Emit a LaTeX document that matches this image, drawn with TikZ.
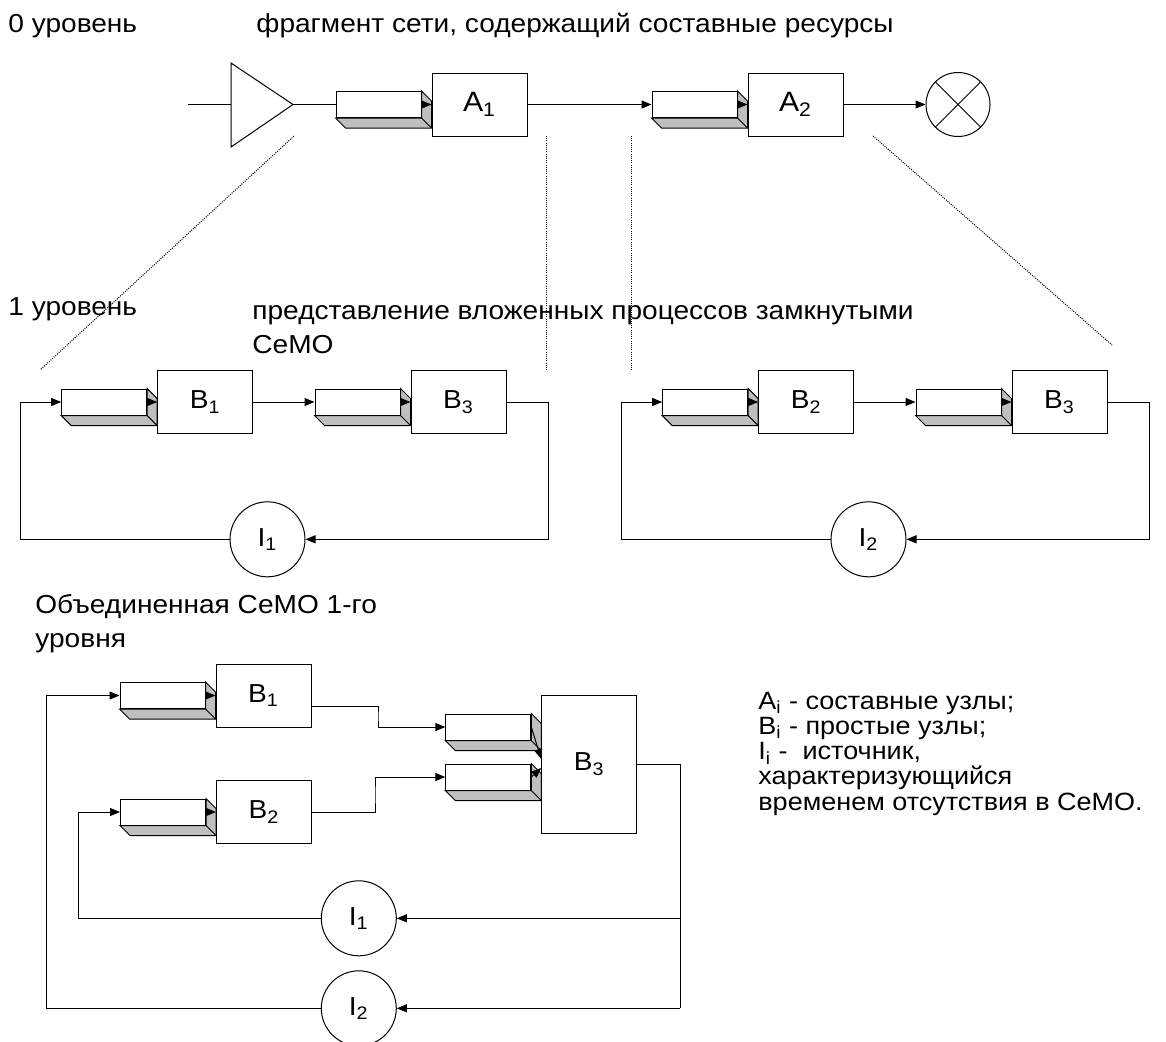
\documentclass[tikz,border=0pt]{standalone}
\usepackage{fontspec}
\setmainfont{Liberation Sans}[FakeStretch=1.08]
\usetikzlibrary{arrows.meta, positioning, calc}
\tikzset{
    base/.style = {draw=black, line width=0.5pt, inner sep=0pt, fill=white,
        font=\fontsize{13}{15}\selectfont},
    % Components
    box/.style    = {base, rectangle, minimum width=47.5pt, minimum height=31.5pt},
    tallbox/.style= {box, minimum height=69pt},
    queue/.style  = {base, rectangle, minimum width=42.5pt, minimum height=13pt},
    qface/.style  = {draw=black, line width=0.5pt, fill=gray!50},
    source/.style = {base, circle, minimum size=37.5pt},
    sink/.style   = {base, circle, minimum size=32pt},
    % Edges and annotations
    wire/.style   = {line width=0.5pt},
    arrow/.style  = {line width=0.5pt, -{Triangle[length=5pt,width=4pt]}},
    guide/.style  = {line width=0.5pt, dash pattern=on 0.5pt off 0.6pt},
    note/.style   = {anchor=base west, inner sep=0pt, align=left,
        font=\fontsize{13}{17}\selectfont},
    keytext/.style= {note, font=\fontsize{12.5}{12.6}\selectfont}
}
% shaded side and bottom of a queue
\newcommand{\queueface}[1]{%
    \filldraw[qface] (#1.south west) -- ([shift={(10,10)}]#1.south west)
        -- ([shift={(10,10)}]#1.south east) -- ([shift={(10,10)}]#1.north east)
        -- (#1.north east) -- (#1.south east) -- cycle;
    \draw[qface] (#1.south east) -- ([shift={(10,10)}]#1.south east);
}

\begin{document}
\begin{tikzpicture}[x=0.5pt, y=-0.5pt]
    \useasboundingbox (0,0) rectangle (1166,1041);

    % level 0
    \node (lvl0) [note] at (8,32) {0 уровень};
    \node (title0) [note] at (256,32) {фрагмент сети, содержащий составные ресурсы};

    \draw[wire] (231,63) -- (231,147) -- (293,104.5) coordinate (tri) -- cycle;
    \coordinate (trin) at (231,104.5);
    \coordinate (in0) at (188,104.5);

    \node (q0a) [queue] at (378.5,104.5) {};
    \queueface{q0a}
    \node (A1) [box, right=5pt of q0a, font=\fontsize{14}{16}\selectfont] {A\textsubscript{1}};
    \node (q0b) [queue] at (694.5,104.5) {};
    \queueface{q0b}
    \node (A2) [box, right=5pt of q0b, font=\fontsize{14}{16}\selectfont] {A\textsubscript{2}};
    \node (out0) [sink] at (958,104.5) {};
    \draw[wire] (out0.north west) -- (out0.south east) (out0.north east) -- (out0.south west);

    \draw[wire] (in0) -- (trin);
    \draw[wire] (tri) -- (q0a);
    \draw[arrow] (q0a) -- (A1);
    \draw[arrow] (A1) -- (q0b);
    \draw[arrow] (q0b) -- (A2);
    \draw[arrow] (A2) -- (out0);

    % guide lines between levels
    \draw[guide] (294,136) -- (40,370);
    \draw[guide] (546.5,136) -- (546.5,370);
    \draw[guide] (631,136) -- (631,370);
    \draw[guide] (873,136) -- (1112,345);

    % level 1
    \node (lvl1) [note] at (8,315) {1 уровень};
    \node (title1) [note] at (252,353) {представление вложенных процессов замкнутыми\\СеМО};

    \node (q1a) [queue] at (104.2,402) {};
    \queueface{q1a}
    \node (B1l) [box, right=5pt of q1a] {B\textsubscript{1}};
    \node (q1b) [queue] at (357.5,402) {};
    \queueface{q1b}
    \node (B3l) [box, right=5pt of q1b] {B\textsubscript{3}};
    \node (I1l) [source] at (267.5,539.3) {I\textsubscript{1}};
    \coordinate (c1) at (548,539.3);
    \coordinate (c2) at (20,539.3);

    \draw[arrow] (q1a) -- (B1l);
    \draw[arrow] (B1l) -- (q1b);
    \draw[arrow] (q1b) -- (B3l);
    \draw[arrow] (B3l) -| (c1) -- (I1l);
    \draw[arrow] (I1l) -- (c2) |- (q1a);

    \node (q1c) [queue] at (705.2,402) {};
    \queueface{q1c}
    \node (B2r) [box, right=5pt of q1c] {B\textsubscript{2}};
    \node (q1d) [queue] at (958.5,402) {};
    \queueface{q1d}
    \node (B3r) [box, right=5pt of q1d] {B\textsubscript{3}};
    \node (I2r) [source] at (868.5,539.3) {I\textsubscript{2}};
    \coordinate (c3) at (1149,539.3);
    \coordinate (c4) at (621,539.3);

    \draw[arrow] (q1c) -- (B2r);
    \draw[arrow] (B2r) -- (q1d);
    \draw[arrow] (q1d) -- (B3r);
    \draw[arrow] (B3r) -| (c3) -- (I2r);
    \draw[arrow] (I2r) -- (c4) |- (q1c);

    % joint network
    \node (title2) [note] at (35,647) {Объединенная СеМО 1-го\\уровня};

    \node (q2a) [queue] at (162.5,695.5) {};
    \queueface{q2a}
    \node (B1b) [box, right=5pt of q2a] {B\textsubscript{1}};
    \node (q2b) [queue] at (163,812) {};
    \queueface{q2b}
    \node (B2b) [box, right=5pt of q2b] {B\textsubscript{2}};
    \node (q2c) [queue] at (488.3,727) {};
    \queueface{q2c}
    \node (q2d) [queue] at (488.3,777) {};
    \queueface{q2d}
    \node (B3b) [tallbox] at (589.2,764) {B\textsubscript{3}};
    \node (I1b) [source] at (358.8,918.3) {I\textsubscript{1}};
    \node (I2b) [source] at (358.8,1008.3) {I\textsubscript{2}};
    \coordinate (k1) at (378,716);
    \coordinate (k2) at (375,795);
    \coordinate (j1) at (680,918.3);
    \coordinate (j2) at (680,1008.3);
    \coordinate (m1) at (78.5,918.3);
    \coordinate (m2) at (46,1008.3);

    \draw[arrow] (q2a) -- (B1b);
    \draw[arrow] (q2b) -- (B2b);
    \draw[arrow] ([yshift=-5.3pt]B1b.east) -| (k1) |- (q2c);
    \draw[arrow] (B2b) -| (k2) |- (q2d);
    \draw[arrow] (q2c.east) -- ([yshift=2.5pt]B3b.west);
    \draw[arrow] (q2d.east) -- ([yshift=-2pt]B3b.west);
    \draw[wire] (B3b) -| (j2);
    \draw[arrow] (j1) -- (I1b);
    \draw[arrow] (j2) -- (I2b);
    \draw[arrow] (I1b) -- (m1) |- (q2b);
    \draw[arrow] (I2b) -- (m2) |- (q2a);

    \node (keys) [keytext] at (758,810) {A\textsubscript{i} - составные узлы;\\B\textsubscript{i} - простые узлы;\\I\textsubscript{i} -\ \ источник,\\характеризующийся\\временем отсутствия в СеМО.};
\end{tikzpicture}
\end{document}
